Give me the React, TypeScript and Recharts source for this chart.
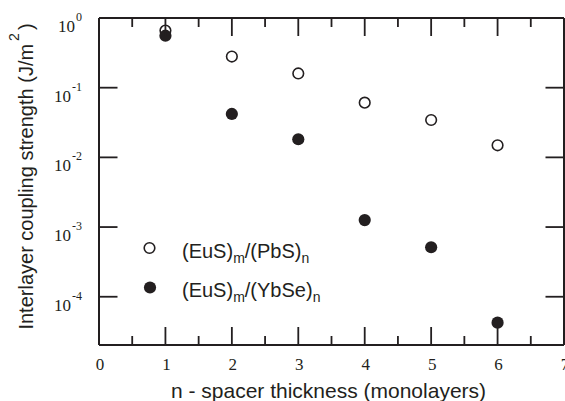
import { Label, Legend, ReferenceLine, Scatter, ScatterChart, XAxis, YAxis } from "recharts";

// spacer thickness n (monolayers)
const spacerN = [1, 2, 3, 4, 5, 6];
// interlayer coupling strength, J/m^2
const pbsCoupling = [0.66, 0.28, 0.16, 0.061, 0.0344, 0.0149];
const ybseCoupling = [0.557, 0.042, 0.0182, 0.00126, 0.000513, 0.0000425];

const xTicks = [0, 0.5, 1, 1.5, 2, 2.5, 3, 3.5, 4, 4.5, 5, 5.5, 6, 6.5, 7];
const yTicks = [0.0001, 0.001, 0.01, 0.1, 1];
const legendLabels = ["PbS", "YbSe"];

const INK = "#231f20";
const SANS = "'Liberation Sans', Arial, sans-serif";
const SERIF = "'Liberation Serif', 'Times New Roman', serif";
const X_DOMAIN: [number, number] = [0, 7];
const Y_DOMAIN: [number, number] = [2.03e-5, 1];

const WIDTH = 565;
const HEIGHT = 401;
const MARGIN = { top: 18, right: 1, bottom: 0, left: 0 };
const PLOT_TOP = MARGIN.top;
const PLOT_RIGHT = WIDTH - MARGIN.right;
const TICK_OFFSET = 8; // recharts default tickSize 6 + tickMargin 2
const TICK_W = 1.8;

const pbsData = spacerN.map((n, i) => ({ n, j: pbsCoupling[i] }));
const ybseData = spacerN.map((n, i) => ({ n, j: ybseCoupling[i] }));

type TickProps = { x: number; y: number; payload: { value: number } };

// bottom axis tick also draws the mirrored tick on the top edge
function XTick({ x, y, payload }: TickProps) {
  const v = payload.value;
  const major = Number.isInteger(v);
  const len = major ? 18 : 9;
  const axisY = y - TICK_OFFSET;
  return (
    <g>
      <rect x={x - TICK_W / 2} y={axisY - len} width={TICK_W} height={len} fill={INK} />
      <rect x={x - TICK_W / 2} y={PLOT_TOP} width={TICK_W} height={len} fill={INK} />
      {major && (
        <text x={x + 1} y={axisY + 25} textAnchor="middle" fontFamily={SERIF} fontSize={17} fill={INK}>
          {v}
        </text>
      )}
    </g>
  );
}

// left axis tick also draws the mirrored tick on the right edge
function YTick({ x, y, payload }: TickProps) {
  const exp = Math.round(Math.log10(payload.value));
  const axisX = x + TICK_OFFSET;
  return (
    <g>
      <rect x={axisX} y={y - TICK_W / 2} width={18.5} height={TICK_W} fill={INK} />
      <rect x={PLOT_RIGHT - 18.5} y={y - TICK_W / 2} width={18.5} height={TICK_W} fill={INK} />
      <text x={axisX - 17} y={y + 14} textAnchor="end" fontFamily={SERIF} fontSize={17} fill={INK}>
        10
        <tspan dx={1} dy={-11} fontSize={12}>
          {exp}
        </tspan>
      </text>
    </g>
  );
}

function OpenDot({ cx, cy }: { cx?: number; cy?: number }) {
  return <circle cx={cx} cy={cy} r={5.3} fill="#fff" stroke={INK} strokeWidth={1.6} />;
}

function FilledDot({ cx, cy }: { cx?: number; cy?: number }) {
  return <circle cx={cx} cy={cy} r={6.1} fill={INK} />;
}

function XTitle({ viewBox }: { viewBox?: { x: number; y: number; width: number; height: number } }) {
  if (!viewBox) return null;
  return (
    <text
      x={viewBox.x + viewBox.width / 2 - 3}
      y={viewBox.y + 53}
      textAnchor="middle"
      fontFamily={SANS}
      fontSize={21}
      fill={INK}
    >
      n - spacer thickness (monolayers)
    </text>
  );
}

function YTitle({ viewBox }: { viewBox?: { x: number; y: number; width: number; height: number } }) {
  if (!viewBox) return null;
  const cx = 32.5;
  const cy = viewBox.y + viewBox.height / 2 - 5;
  return (
    <text
      x={cx}
      y={cy}
      transform={`rotate(-90, ${cx}, ${cy})`}
      textAnchor="middle"
      fontFamily={SANS}
      fontSize={20}
      fill={INK}
    >
      Interlayer coupling strength (J/m
      <tspan dx={3} dy={-14} fontSize={14}>
        2
      </tspan>
      <tspan dx={3} dy={14}>
        )
      </tspan>
    </text>
  );
}

function LegendBox() {
  return (
    <svg width={230} height={82} style={{ display: "block" }}>
      {legendLabels.map((name, i) => {
        const cy = 18 + i * 39.5;
        return (
          <g key={name}>
            {i === 0 ? <OpenDot cx={19.5} cy={cy} /> : <FilledDot cx={20} cy={cy} />}
            <text x={52} y={cy + 9.8} fontFamily={SANS} fontSize={20} fill={INK}>
              (EuS)
              <tspan dy={5} fontSize={14}>
                m
              </tspan>
              <tspan dy={-5}>/({name})</tspan>
              <tspan dy={5} fontSize={14}>
                n
              </tspan>
            </text>
          </g>
        );
      })}
    </svg>
  );
}

export default function App() {
  return (
    <div style={{ position: "absolute", left: 0, top: 0, width: WIDTH, height: HEIGHT, background: "#fff" }}>
      <ScatterChart width={WIDTH} height={HEIGHT} margin={MARGIN}>
        <XAxis
          type="number"
          dataKey="n"
          domain={X_DOMAIN}
          ticks={xTicks}
          interval={0}
          height={56}
          stroke={INK}
          strokeWidth={2}
          tickLine={false}
          tick={(p: TickProps) => <XTick {...p} />}
        >
          <Label content={<XTitle />} />
        </XAxis>
        <YAxis
          type="number"
          dataKey="j"
          scale="log"
          domain={Y_DOMAIN}
          allowDataOverflow
          ticks={yTicks}
          interval={0}
          width={99}
          stroke={INK}
          strokeWidth={2}
          tickLine={false}
          tick={(p: TickProps) => <YTick {...p} />}
        >
          <Label content={<YTitle />} />
        </YAxis>
        {/* top and right edges of the frame */}
        <ReferenceLine y={Y_DOMAIN[1]} stroke={INK} strokeWidth={2} />
        <ReferenceLine x={X_DOMAIN[1]} stroke={INK} strokeWidth={2} />
        <Legend
          align="center"
          verticalAlign="middle"
          content={() => <LegendBox />}
          wrapperStyle={{ position: "absolute", left: 130, top: 230, width: 230, height: 82 }}
        />
        <Scatter name="(EuS)m/(PbS)n" data={pbsData} dataKey="j" shape={<OpenDot />} isAnimationActive={false} />
        <Scatter name="(EuS)m/(YbSe)n" data={ybseData} dataKey="j" shape={<FilledDot />} isAnimationActive={false} />
      </ScatterChart>
    </div>
  );
}
